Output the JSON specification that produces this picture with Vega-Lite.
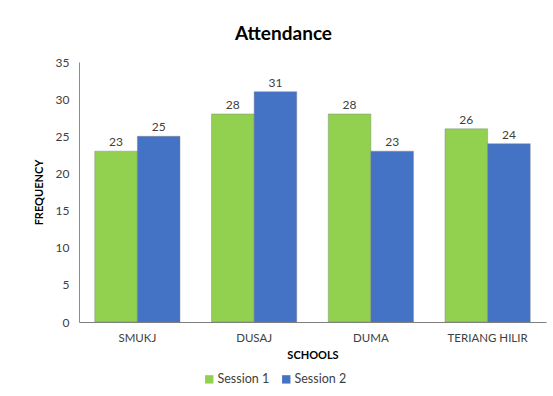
{
  "$schema": "https://vega.github.io/schema/vega-lite/v6.json",
  "width": 467,
  "height": 260,
  "autosize": "none",
  "padding": {"left": 79, "top": 62, "right": 7, "bottom": 74},
  "background": "white",
  "config": {
    "font": "Lato",
    "view": {"stroke": null}
  },
  "title": {
    "text": "Attendance",
    "fontSize": 19,
    "fontWeight": "bold",
    "color": "#000000",
    "anchor": "middle",
    "dx": -29,
    "offset": 12
  },
  "data": {
    "values": [
      {"school": "SMUKJ", "session": "Session 1", "value": 23},
      {"school": "SMUKJ", "session": "Session 2", "value": 25},
      {"school": "DUSAJ", "session": "Session 1", "value": 28},
      {"school": "DUSAJ", "session": "Session 2", "value": 31},
      {"school": "DUMA", "session": "Session 1", "value": 28},
      {"school": "DUMA", "session": "Session 2", "value": 23},
      {"school": "TERIANG HILIR", "session": "Session 1", "value": 26},
      {"school": "TERIANG HILIR", "session": "Session 2", "value": 24}
    ]
  },
  "encoding": {
    "x": {
      "field": "school",
      "type": "nominal",
      "sort": ["SMUKJ", "DUSAJ", "DUMA", "TERIANG HILIR"],
      "scale": {"paddingInner": 0.27, "paddingOuter": 0.135},
      "axis": {
        "title": "SCHOOLS",
        "titleFontSize": 11,
        "titleFontWeight": "bold",
        "titleColor": "#000000",
        "titlePadding": 6,
        "labelAngle": 0,
        "labelFontSize": 11.5,
        "labelColor": "#404040",
        "labelPadding": 10,
        "ticks": false,
        "domainColor": "#7f7f7f",
        "domainWidth": 1
      }
    },
    "xOffset": {"field": "session", "type": "nominal", "sort": ["Session 1", "Session 2"]},
    "y": {
      "field": "value",
      "type": "quantitative",
      "scale": {"domain": [0, 35], "nice": false},
      "axis": {
        "title": "FREQUENCY",
        "titleFontSize": 11,
        "titleFontWeight": "bold",
        "titleColor": "#000000",
        "titlePadding": 11,
        "values": [0, 5, 10, 15, 20, 25, 30, 35],
        "labelFontSize": 12,
        "labelColor": "#404040",
        "labelPadding": 10,
        "ticks": false,
        "grid": false,
        "domainColor": "#8c8c8c",
        "domainWidth": 1
      }
    }
  },
  "layer": [
    {
      "mark": {"type": "bar", "stroke": "#7f7f7f", "strokeWidth": 0.6, "strokeOpacity": 0.7},
      "encoding": {
        "color": {
          "field": "session",
          "type": "nominal",
          "scale": {"domain": ["Session 1", "Session 2"], "range": ["#92D050", "#4472C4"]},
          "legend": {
            "title": null,
            "orient": "none",
            "legendX": 124,
            "legendY": 311,
            "direction": "horizontal",
            "symbolType": "square",
            "symbolSize": 70,
            "symbolStrokeWidth": 0,
            "labelFontSize": 12.5,
            "labelColor": "#404040",
            "columnPadding": 10,
            "labelOffset": 2
          }
        }
      }
    },
    {
      "mark": {"type": "text", "dy": -9, "fontSize": 12, "color": "#404040"},
      "encoding": {"text": {"field": "value", "type": "quantitative"}}
    }
  ]
}
